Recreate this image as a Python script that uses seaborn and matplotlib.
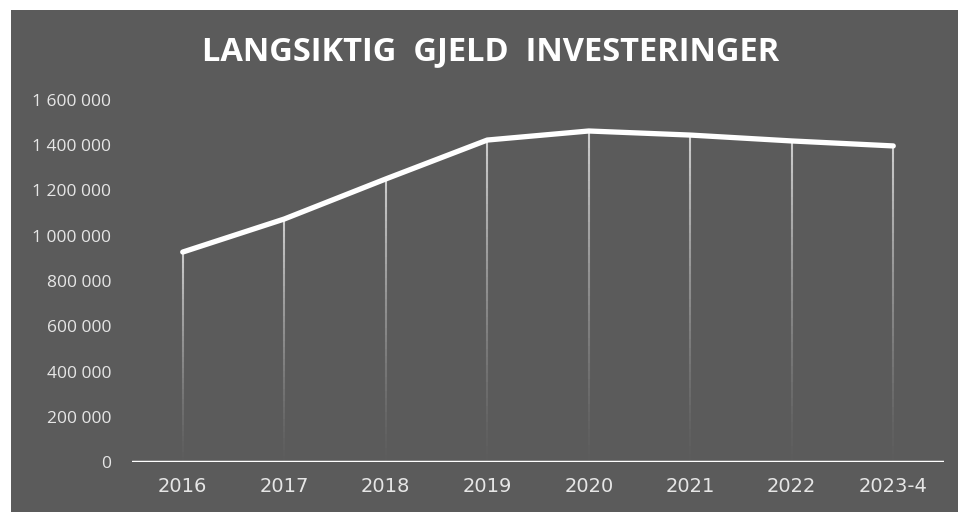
import numpy as np
import pandas as pd
import matplotlib
matplotlib.use("Agg")
import matplotlib.pyplot as plt
from matplotlib.patches import Rectangle
from matplotlib.ticker import FuncFormatter
import seaborn as sns

# Data
years = ['2016', '2017', '2018', '2019', '2020', '2021', '2022', '2023-4']
gjeld = [928000, 1074000, 1251000, 1423000, 1463000, 1445000, 1419000, 1397000]
y_ticks = [0, 200000, 400000, 600000, 800000, 1000000, 1200000, 1400000, 1600000]

df = pd.DataFrame({'pos': range(len(years)), 'aar': years, 'gjeld': gjeld})

sns.set_theme(style='white')
plt.rcParams['font.family'] = ['Open Sans', 'DejaVu Sans']

bg = '#5b5b5b'
fig = plt.figure(figsize=(9.58, 5.12), dpi=100, facecolor='white')
fig.patches.append(Rectangle((11 / 958, 0), 1, 1 - 10 / 512, transform=fig.transFigure,
                             facecolor=bg, edgecolor='none', zorder=-10))
ax = fig.add_axes([132 / 958, 1 - 462 / 512, 812 / 958, 362 / 512])
ax.set_facecolor(bg)
ax.patch.set_alpha(0)

# fading drop lines from each point down to the axis
n_seg = 40
for x, v in zip(df['pos'], df['gjeld']):
    edges = np.linspace(v, 0, n_seg + 1)
    for i in range(n_seg):
        a = 0.75 * (1 - i / n_seg) ** 1.3
        ax.vlines(x, edges[i + 1], edges[i], color='#f2f2f2', alpha=a, lw=1.5, zorder=2)

sns.lineplot(data=df, x='pos', y='gjeld', color='white', linewidth=3.8, ax=ax,
             solid_capstyle='round', solid_joinstyle='round', zorder=4)

ax.axhline(0, color='white', lw=2.5, zorder=3)
ax.set_xlim(-0.5, len(years) - 0.5)
ax.set_ylim(0, 1600000)
ax.set_xticks(range(len(years)))
ax.set_xticklabels(years, fontfamily='DejaVu Sans', fontsize=14)
ax.set_yticks(y_ticks)
ax.yaxis.set_major_formatter(FuncFormatter(lambda v, p: f'{int(v):,}'.replace(',', ' ')))
for s in ax.spines.values():
    s.set_visible(False)
ax.tick_params(axis='x', length=0, pad=11, labelcolor='#e6e6e6')
ax.tick_params(axis='y', length=0, pad=15, labelsize=12.5, labelcolor='#e6e6e6')
ax.set_xlabel('')
ax.set_ylabel('')

fig.text(491 / 958, 1 - 52 / 512, 'LANGSIKTIG  GJELD  INVESTERINGER', ha='center', va='center',
         color='white', fontsize=23.5, fontweight='bold')

fig.savefig('out.png', dpi=100, facecolor='white')
